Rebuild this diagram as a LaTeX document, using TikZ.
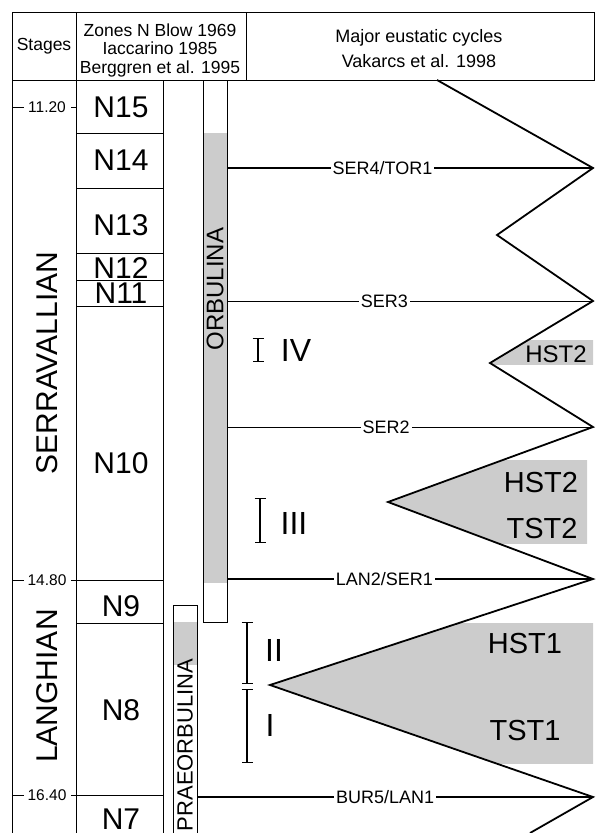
\documentclass[tikz,border=0pt]{standalone}
\usepackage{fontspec}
\setmainfont{Liberation Sans}
\usepackage{tikz}
\usetikzlibrary{arrows.meta}

\begin{document}
\begin{tikzpicture}[x=1pt, y=-1pt, line width=1pt,
        hdrlbl/.style={font=\fontsize{17.5}{18.5}\selectfont, align=center, inner sep=0pt},
        zonelbl/.style={font=\fontsize{30}{30}\selectfont, inner sep=0pt},
        stagelbl/.style={font=\fontsize{30}{30}\selectfont, rotate=90, inner sep=0pt},
        agelbl/.style={font=\fontsize{15.5}{15.5}\selectfont, inner sep=0pt},
        taxonlbl/.style={rotate=90, inner sep=0pt},
        seqlbl/.style={font=\fontsize{18}{18}\selectfont, fill=white, inner sep=2pt},
        tractlbl/.style={font=\fontsize{29}{29}\selectfont, inner sep=0pt},
        cyclelbl/.style={font=\fontsize{32}{32}\selectfont, inner sep=0pt},
        rangebar/.style={line width=1.3pt, {Bar[width=11pt]}-{Bar[width=11pt]}}]
    \useasboundingbox (0,0) rectangle (595,833);

    % header
    \draw (12,12) rectangle (594,80);
    \draw (76,12) -- (76,80) (246,12) -- (246,80);
    \node[hdrlbl, name=stg] at (44,46) {Stages};
    \node[hdrlbl, name=zon] at (160,50) {Zones N Blow 1969\\Iaccarino 1985\\Berggren et al. 1995};
    \node[hdrlbl, font=\fontsize{18}{25}\selectfont, name=cyc] at (419,49) {Major eustatic cycles\\Vakarcs et al. 1998};

    % columns
    \draw (12,80) -- (12,833) (76,80) -- (76,833) (163,80) -- (163,833);
    \foreach \y in {133,188,253,280,306,580,623,795}
        \draw (76,\y) -- (163,\y);

    \node[zonelbl, name=n15] at (121,107) {N15};
    \node[zonelbl, name=n14] at (121,160) {N14};
    \node[zonelbl, name=n13] at (121,225) {N13};
    \node[zonelbl, name=n12] at (121,268) {N12};
    \node[zonelbl, name=n11] at (121,293) {N11};
    \node[zonelbl, name=n10] at (121,463) {N10};
    \node[zonelbl, name=n9] at (121,606) {N9};
    \node[zonelbl, name=n8] at (121,710) {N8};
    \node[zonelbl, name=n7] at (121,819) {N7};

    \node[stagelbl, name=serr] at (47,363) {SERRAVALLIAN};
    \node[stagelbl, name=lang] at (47,686) {LANGHIAN};

    \foreach \y/\t in {107/11.20,580/14.80,795/16.40} {
        \draw (12,\y) -- (24,\y) (71,\y) -- (76,\y);
        \node[agelbl] at (47,\y) {\t};
    }

    % taxa
    \fill[gray!40] (203,133) rectangle (227,583);
    \draw (203,80) -- (203,622) -- (227,622) -- (227,80);
    \node[taxonlbl, font=\fontsize{24}{24}\selectfont, name=orb] at (215,289) {ORBULINA};
    \fill[gray!40] (173,622) rectangle (197,665);
    \draw (173,833) -- (173,605) -- (197,605) -- (197,833);
    \node[taxonlbl, font=\fontsize{22}{22}\selectfont, name=praeorb] at (185,745) {PRAEORBULINA};

    % eustatic curve
    \coordinate (z0) at (437,80);
    \coordinate (z1) at (593,168);
    \coordinate (z2) at (497,235);
    \coordinate (z3) at (593,301);
    \coordinate (z4) at (490,363);
    \coordinate (z5) at (593,427);
    \coordinate (z6) at (388,502);
    \coordinate (z7) at (593,579);
    \coordinate (z8) at (270,685);
    \coordinate (z9) at (593,797);
    \coordinate (z10) at (530,833);

    \begin{scope}
        \clip (200,340) rectangle (595,364);
        \fill[gray!40] (z3) -- (z4) -- (z5) -- cycle;
    \end{scope}
    \begin{scope}
        \clip (200,460) rectangle (587,543);
        \fill[gray!40] (z5) -- (z6) -- (z7) -- cycle;
    \end{scope}
    \begin{scope}
        \clip (200,623) rectangle (595,763);
        \fill[gray!40] (z7) -- (z8) -- (z9) -- cycle;
    \end{scope}

    \draw[line width=1.8pt, line join=miter] (z0) -- (z1) -- (z2) -- (z3) -- (z4) -- (z5) -- (z6) -- (z7) -- (z8) -- (z9) -- (z10);

    \coordinate (s4) at (227,168);
    \coordinate (s3) at (227,301);
    \coordinate (s2) at (227,427);
    \coordinate (s1) at (227,579);
    \coordinate (b5) at (197,797);
    \draw[line width=2.8pt] (s4) -- node[seqlbl, pos=.425] {SER4/TOR1} (z1);
    \draw[line width=.8pt] (s3) -- node[seqlbl, pos=.43] {SER3} (z3);
    \draw[line width=.8pt] (s2) -- node[seqlbl, pos=.435] {SER2} (z5);
    \draw[line width=1.8pt] (s1) -- node[seqlbl, pos=.43] {LAN2/SER1} (z7);
    \draw[line width=1.8pt] (b5) -- node[seqlbl, pos=.475] {BUR5/LAN1} (z9);

    \node[tractlbl, font=\fontsize{24}{24}\selectfont, name=hst2a] at (556,354) {HST2};
    \node[tractlbl, name=hst2b] at (541,483) {HST2};
    \node[tractlbl, name=tst2] at (542,529) {TST2};
    \node[tractlbl, name=hst1] at (525,644) {HST1};
    \node[tractlbl, name=tst1] at (525,731) {TST1};

    % cycles
    \coordinate (r4a) at (258,338);
    \coordinate (r4b) at (258,362);
    \coordinate (r3a) at (260,498);
    \coordinate (r3b) at (260,543);
    \coordinate (r2a) at (247,622);
    \coordinate (r2b) at (247,684);
    \coordinate (r1a) at (247,689);
    \coordinate (r1b) at (247,763);
    \draw[rangebar] (r4a) -- (r4b);
    \draw[rangebar] (r3a) -- (r3b);
    \draw[rangebar] (r2a) -- (r2b);
    \draw[rangebar] (r1a) -- (r1b);
    \node[cyclelbl, name=c4] at (296,350) {IV};
    \node[cyclelbl, name=c3] at (294,523) {III};
    \node[cyclelbl, name=c2] at (274,650) {II};
    \node[cyclelbl, name=c1] at (270,725) {I};
\end{tikzpicture}
\end{document}
